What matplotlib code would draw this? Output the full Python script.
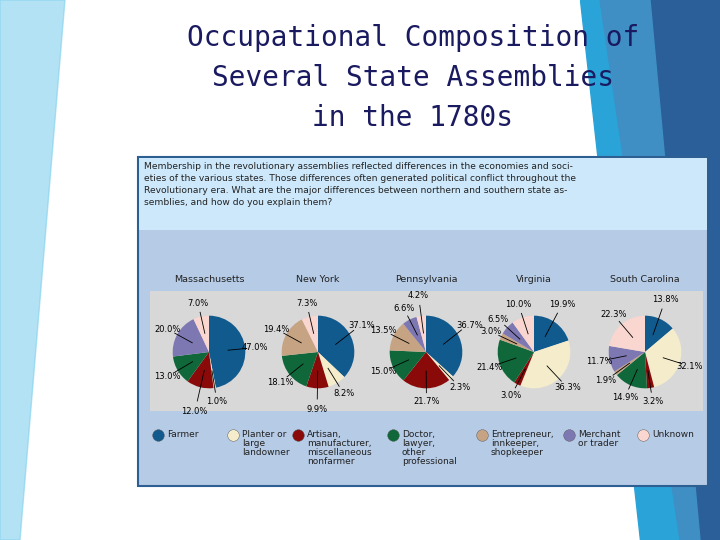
import matplotlib.pyplot as plt
import numpy as np
from matplotlib.patches import Rectangle, Polygon

states = ['Massachusetts', 'New York', 'Pennsylvania', 'Virginia', 'South Carolina']
categories = ['Farmer', 'Planter or\nlarge\nlandowner', 'Artisan,\nmanufacturer,\nmiscellaneous\nnonfarmer',
              'Doctor,\nlawyer,\nother\nprofessional', 'Entrepreneur,\ninnkeeper,\nshopkeeper',
              'Merchant\nor trader', 'Unknown']
massachusetts = [47.0, 1.0, 12.0, 13.0, 0.0, 20.0, 7.0]
new_york = [37.1, 8.2, 9.9, 18.1, 19.4, 0.0, 7.3]
pennsylvania = [36.7, 2.3, 21.7, 15.0, 13.5, 6.6, 4.2]
virginia = [19.9, 36.3, 3.0, 21.4, 3.0, 6.5, 10.0]
south_carolina = [13.8, 32.1, 3.2, 14.9, 1.9, 11.7, 22.3]
values = [massachusetts, new_york, pennsylvania, virginia, south_carolina]
colors = ['#115a8e', '#f4eccb', '#8a0a0a', '#10683a', '#c6a383', '#7e78b2', '#f9d6cf']

W, H = 720, 540
fig = plt.figure(figsize=(7.2, 5.4), dpi=100)
bg = fig.add_axes([0, 0, 1, 1])
bg.set_xlim(0, W)
bg.set_ylim(H, 0)
bg.axis('off')

# slide decoration
bg.add_patch(Polygon([[0, 0], [65, 0], [20, 540], [0, 540]], color='#7fd0ee', alpha=0.6))
bg.add_patch(Polygon([[580, 0], [720, 0], [720, 540], [640, 540]], color='#2aa3d8'))
bg.add_patch(Polygon([[640, 0], [720, 0], [720, 540], [690, 540]], color='#2a5f9a'))
bg.add_patch(Polygon([[600, 0], [650, 0], [700, 540], [680, 540]], color='#3f8fc4'))

# box
bg.add_patch(Rectangle((138, 157), 570, 329, fc='#b6cbe6', ec='#2d5f92', lw=1.5))
bg.add_patch(Rectangle((139, 158), 568, 72, fc='#cde8fb', ec='none'))
bg.add_patch(Rectangle((150, 291), 553, 120, fc='#d8d8d8', ec='none'))

for y, line in zip([38, 78, 118], ['Occupational Composition of', 'Several State Assemblies', 'in the 1780s']):
    bg.text(413, y, line, ha='center', va='center', family='DejaVu Sans Mono',
            fontsize=20, color='#1a1a60')

intro = ("Membership in the revolutionary assemblies reflected differences in the economies and soci-\n"
         "eties of the various states. Those differences often generated political conflict throughout the\n"
         "Revolutionary era. What are the major differences between northern and southern state as-\n"
         "semblies, and how do you explain them?")
bg.text(144, 162, intro, ha='left', va='top', fontsize=6.6, linespacing=1.45, color='#222222')

centers = [209, 318, 426, 534, 645]
for name, vals, cx in zip(states, values, centers):
    bg.text(cx, 279, name, ha='center', va='center', fontsize=6.8, color='#222222')
    size = 130
    ax = fig.add_axes([(cx - size / 2) / W, 1 - (352 + size / 2) / H, size / W, size / H])
    wedges, _ = ax.pie(vals, colors=colors, startangle=90, counterclock=False, radius=0.95)
    placed = []
    for w, v in zip(wedges, vals):
        if v == 0:
            continue
        ang = np.deg2rad((w.theta1 + w.theta2) / 2)
        x, y = np.cos(ang), np.sin(ang)
        r = 1.2 + 0.1 * abs(y)
        # push labels outward / sideways when too close to a previous one
        for px, py in placed:
            if abs(r * x - px) < 0.7 and abs(r * y - py) < 0.28:
                r = 1.5
        tx, ty = r * x, r * y
        if ty > 0.2 and tx > 0:
            ty += 0.2
        for px, py in placed:
            if abs(tx - px) < 0.7 and abs(ty - py) < 0.28:
                ty = py - 0.28 if ty < py else py + 0.28
        placed.append((tx, ty))
        ax.plot([0.5 * x, tx * 0.82], [0.5 * y, ty * 0.82], color='black', lw=0.6)
        ax.text(tx, ty, f'{v:.1f}%', ha='center', va='center', fontsize=6)
    ax.set_xlim(-1.7, 1.7)
    ax.set_ylim(-1.7, 1.7)
    ax.set_aspect('equal')
    ax.axis('off')

leg_x = [158, 233, 298, 393, 482, 569, 643]
for x, c, lab in zip(leg_x, colors, categories):
    bg.scatter([x], [435], s=70, color=c, edgecolors='#555555', linewidths=0.3)
    bg.text(x + 9, 430, lab, ha='left', va='top', fontsize=6.5, linespacing=1.0, color='#222222')

fig.savefig('out.png', dpi=100)
